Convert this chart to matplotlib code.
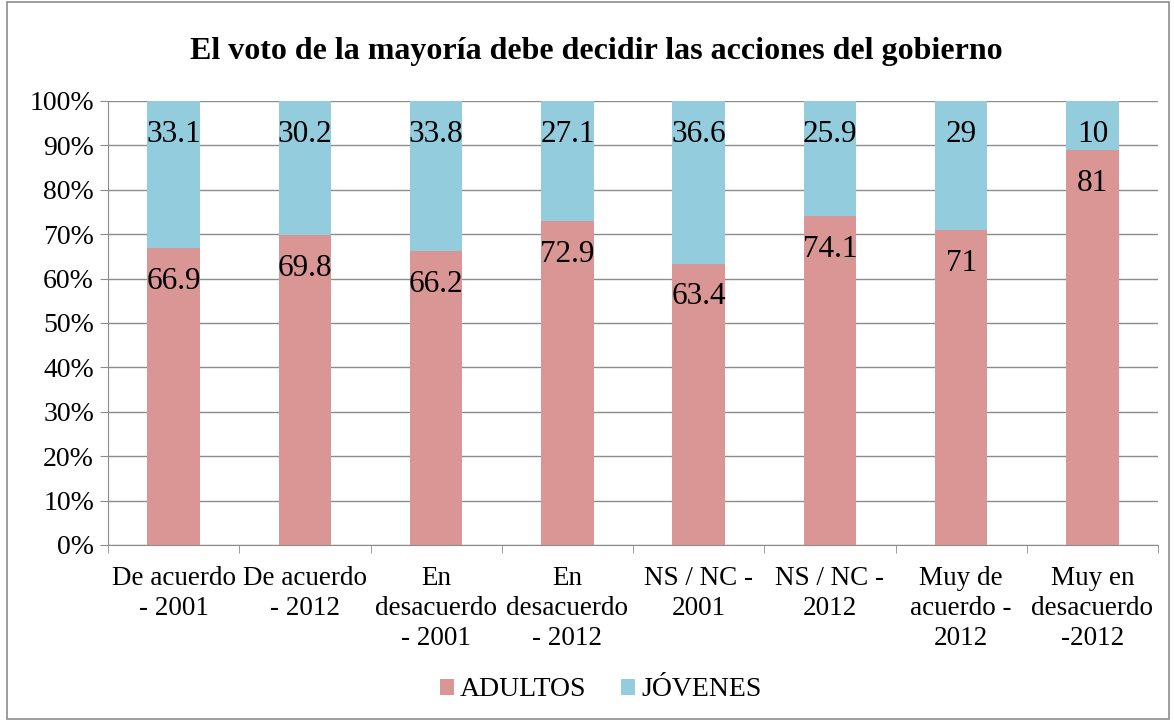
import matplotlib.pyplot as plt
import numpy as np
from matplotlib.patches import Rectangle

categories = ["De acuerdo\n- 2001", "De acuerdo\n- 2012", "En\ndesacuerdo\n- 2001",
              "En\ndesacuerdo\n- 2012", "NS / NC -\n2001", "NS / NC -\n2012",
              "Muy de\nacuerdo -\n2012", "Muy en\ndesacuerdo\n-2012"]
adultos = [66.9, 69.8, 66.2, 72.9, 63.4, 74.1, 71, 81]
jovenes = [33.1, 30.2, 33.8, 27.1, 36.6, 25.9, 29, 10]

plt.rcParams['font.family'] = ['Liberation Serif', 'DejaVu Serif']

fig = plt.figure(figsize=(11.74, 7.21), dpi=100)
ax = fig.add_axes([108/1174, 1 - 545/721, 1050/1174, 444/721])

# stacked as percent of total
tot = np.array(adultos) + np.array(jovenes)
a_pct = np.array(adultos) / tot * 100
j_pct = np.array(jovenes) / tot * 100
x = np.arange(len(categories))

ax.set_axisbelow(True)
ax.yaxis.grid(True, color='#8c8c8c', linewidth=1)
b1 = ax.bar(x, a_pct, 0.4, color='#D99694', label='ADULTOS')
b2 = ax.bar(x, j_pct, 0.4, bottom=a_pct, color='#93CDDD', label='JÓVENES')

for i in range(len(x)):
    ax.annotate(f"{adultos[i]:g}", (x[i], a_pct[i]), xytext=(0, -24), textcoords='offset points',
                ha='center', va='center', fontsize=22.5)
    ax.annotate(f"{jovenes[i]:g}", (x[i], 100), xytext=(0, -24), textcoords='offset points',
                ha='center', va='center', fontsize=22.5)

ax.set_xlim(-0.5, len(x) - 0.5)
ax.set_ylim(0, 100)
ax.set_yticks(np.arange(0, 101, 10))
ax.set_yticklabels([f"{v}%" for v in range(0, 101, 10)], fontsize=20)
ax.set_xticks(x)
ax.set_xticklabels(categories, fontsize=19.5, linespacing=1.26)
ax.set_xticks(np.arange(-0.5, len(x), 1), minor=True)
ax.tick_params(axis='x', which='major', length=0, pad=15)
ax.tick_params(axis='x', which='minor', length=6, color='#8c8c8c')
ax.tick_params(axis='y', length=6, color='#8c8c8c', pad=4)
for s in ['top', 'right']:
    ax.spines[s].set_visible(False)
ax.spines['left'].set_color('#8c8c8c')
ax.spines['bottom'].set_color('#8c8c8c')

fig.text(596/1174, 1 - 52/721, "El voto de la mayoría debe decidir las acciones del gobierno",
         ha='center', va='center', fontsize=23, fontweight='bold')

fig.legend(handles=[b1, b2], loc='center', bbox_to_anchor=(601/1174, 1 - 690/721), ncol=2,
           frameon=False, fontsize=20, handlelength=0.5, handleheight=0.5, handletextpad=0.22,
           columnspacing=1.25)

fig.patches.append(Rectangle((7/1174, 2/721), 1162/1174, 717/721, transform=fig.transFigure,
                             fill=False, edgecolor='#8c8c8c', linewidth=1.2))

fig.savefig('out.png', dpi=100)
